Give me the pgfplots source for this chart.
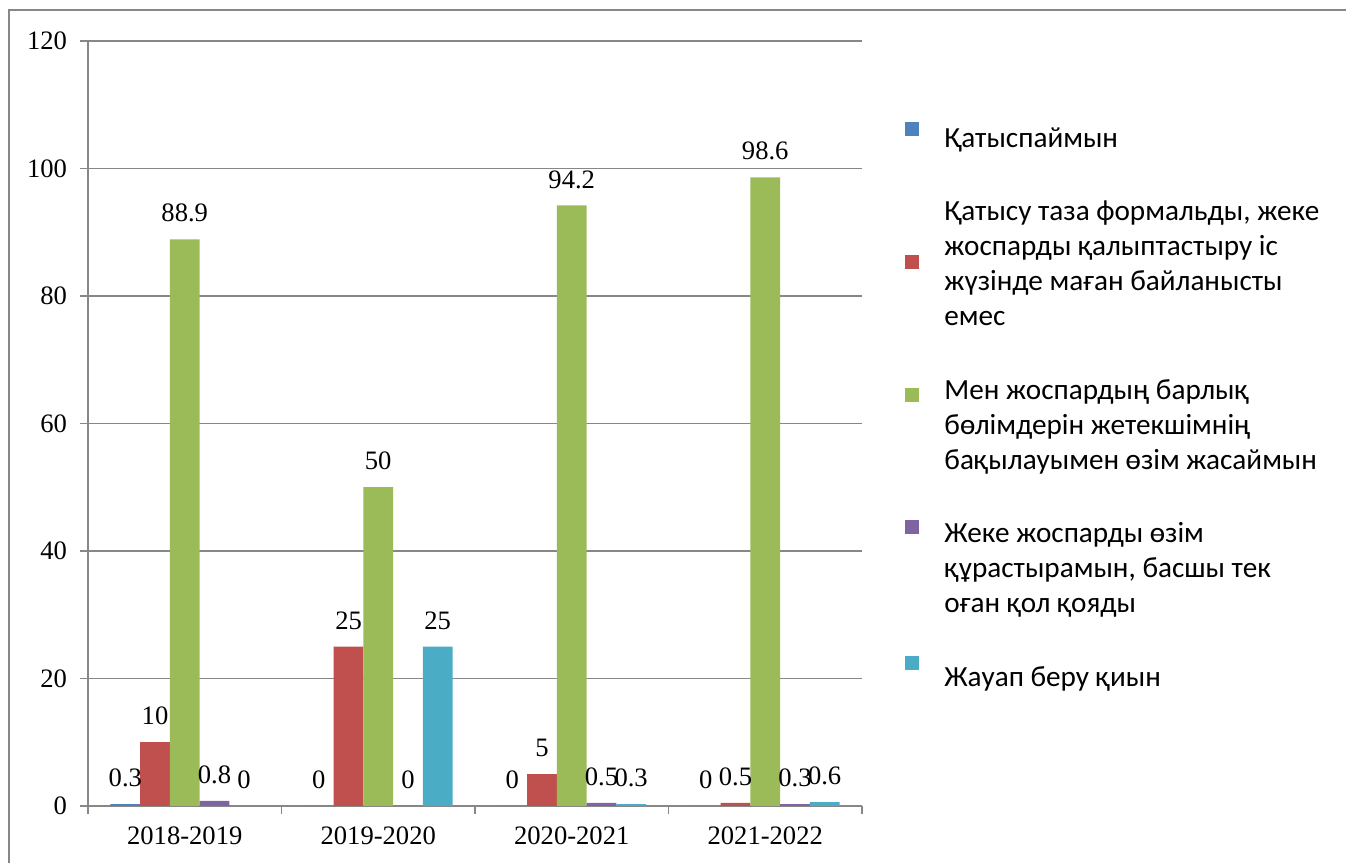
\documentclass[border=0pt]{standalone}
\usepackage{fontspec}
\setmainfont{Liberation Serif}
\newfontfamily\legfont{Carlito}
\usepackage{pgfplots}
\pgfplotsset{compat=1.18}
\definecolor{c1}{HTML}{4F81BD}
\definecolor{c2}{HTML}{C0504D}
\definecolor{c3}{HTML}{9BBB59}
\definecolor{c4}{HTML}{8064A2}
\definecolor{c5}{HTML}{4BACC6}
\definecolor{gridgray}{HTML}{878787}
\pgfplotsset{
  sqimg/.style n args={2}{legend image code/.code={
    \path[draw=none,fill=none] (0pt,-3.5pt) rectangle (7pt,3.5pt);
    \fill[overlay,fill=#1] (0pt,#2-3.5pt) rectangle (7pt,#2+3.5pt);}}
}
\begin{document}
\begin{tikzpicture}
\useasboundingbox (0,0) rectangle (673pt,431.5pt);
\draw[gridgray, line width=1pt] (4.5pt,0pt) -- (4.5pt,426.5pt) -- (673pt,426.5pt);
\begin{axis}[
  at={(44pt,28.5pt)}, anchor=south west,
  width=387pt, height=382.5pt, scale only axis,
  ybar=0pt, bar width=14.85pt,
  ymin=0, ymax=120, ytick={0,20,...,120},
  xmin=-0.5, xmax=3.5,
  xtick={-0.5,0.5,1.5,2.5,3.5}, xticklabels={},
  extra x ticks={0,1,2,3},
  extra x tick labels={2018-2019,2019-2020,2020-2021,2021-2022},
  extra x tick style={major tick length=0pt, grid=none, xticklabel style={yshift=-7pt}},
  axis x line*=bottom, axis y line*=left,
  axis line style={gridgray, line width=0.9pt, -},
  tick style={gridgray, line width=0.9pt},
  major tick length=4pt, tick align=outside,
  ymajorgrids, grid style={gridgray, line width=0.9pt},
  /pgf/number format/assume math mode=true,
  tick label style={font=\fontsize{13.3}{16}\selectfont, text=black},
  yticklabel style={xshift=-3pt},
  nodes near coords,
  every node near coord/.append style={font=\fontsize{13.3}{16}\selectfont, text=black, yshift=5pt},
  legend style={draw=none, fill=none, at={(axis description cs:1.0556,0.8987)}, anchor=north west,
    row sep=19pt, column sep=10.5pt, inner sep=0pt,
    cells={anchor=west, inner sep=0pt, align=left, font=\legfont\fontsize{14.6}{17.5}\selectfont}},
  legend cell align=left,
]
\addplot[fill=c1, draw=none, sqimg={c1}{4pt}] coordinates {(0,0.3) (1,0) (2,0) (3,0)};
\addlegendentry{\strut Қатыспаймын}
\addplot[fill=c2, draw=none, sqimg={c2}{0.5pt}] coordinates {(0,10) (1,25) (2,5) (3,0.5)};
\addlegendentry{\strut Қатысу таза формальды, жеке\\\strut жоспарды қалыптастыру іс\\\strut жүзінде маған байланысты\\\strut емес}
\addplot[fill=c3, draw=none, sqimg={c3}{14.5pt}] coordinates {(0,88.9) (1,50) (2,94.2) (3,98.6)};
\addlegendentry{\strut Мен жоспардың барлық\\\strut бөлімдерін жетекшімнің\\\strut бақылауымен өзім жасаймын}
\addplot[fill=c4, draw=none, sqimg={c4}{20pt}] coordinates {(0,0.8) (1,0) (2,0.5) (3,0.3)};
\addlegendentry{\strut Жеке жоспарды өзім\\\strut құрастырамын, басшы тек\\\strut оған қол қояды}
\addplot[fill=c5, draw=none, sqimg={c5}{6.5pt}] coordinates {(0,0) (1,25) (2,0.3) (3,0.6)};
\addlegendentry{\strut Жауап беру қиын}
\end{axis}
\end{tikzpicture}
\end{document}
